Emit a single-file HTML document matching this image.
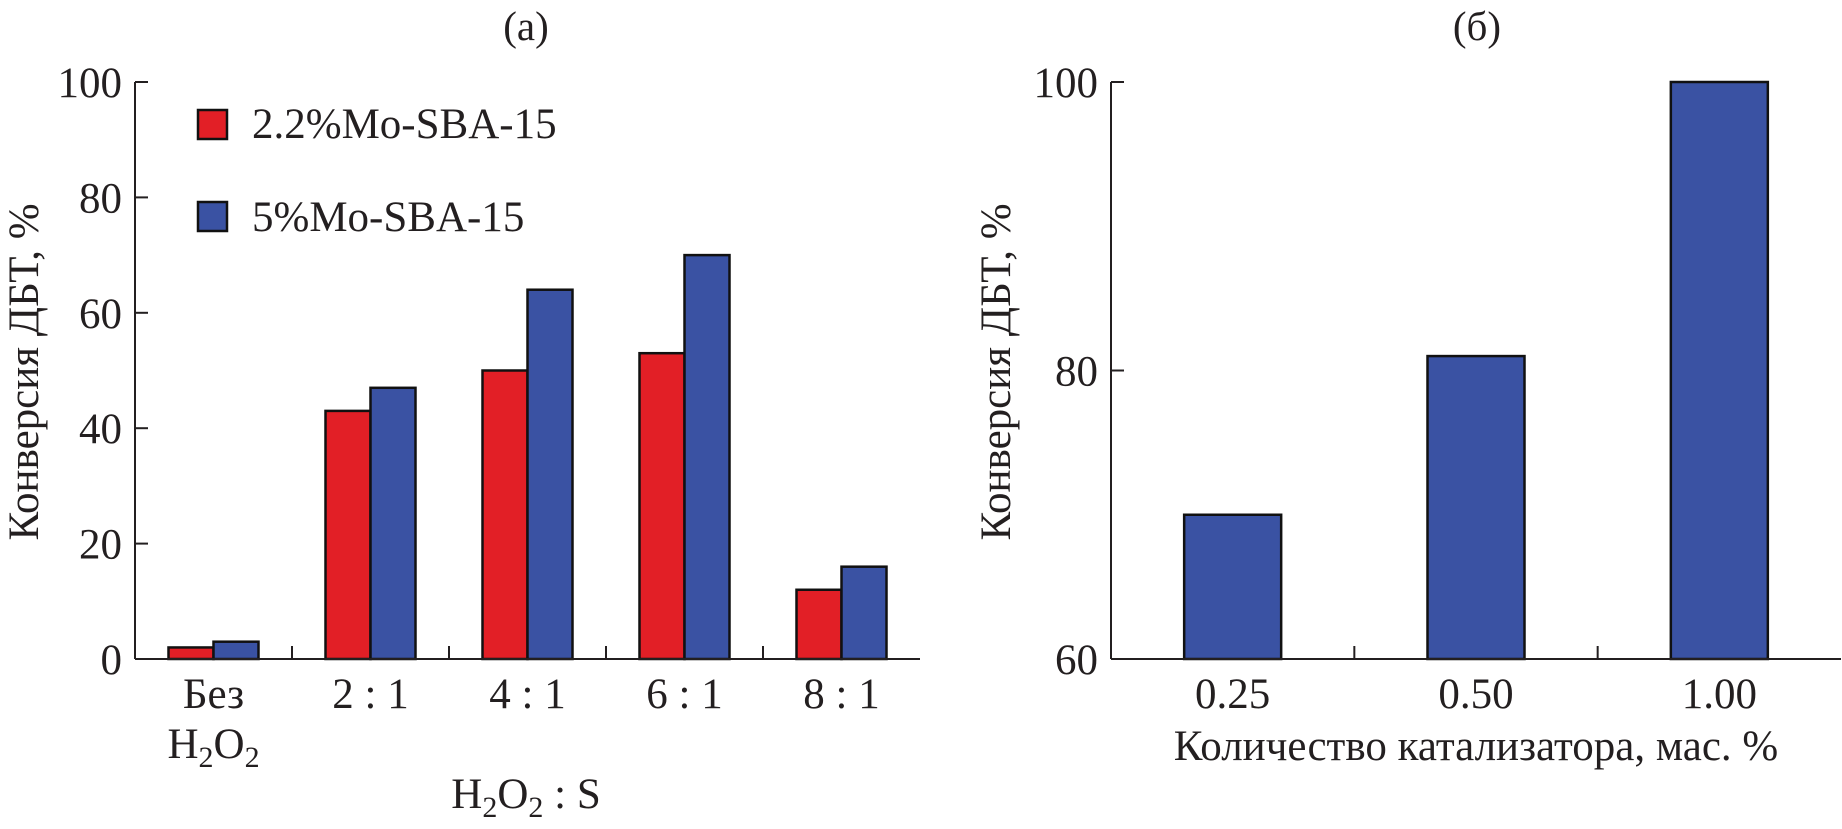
<!DOCTYPE html>
<html><head><meta charset="utf-8"><style>
html,body{margin:0;padding:0;background:#fff;}
svg{display:block;}
text{font-family:"Liberation Serif","Times New Roman",serif;fill:#231f20;}
</style></head><body>
<svg id="chart" width="1842" height="829" viewBox="0 0 1842 829" xmlns="http://www.w3.org/2000/svg" font-family="Liberation Serif, serif">
<g id="left"></g>
<g id="right"></g>
</svg>
<script>
const catsA = ["Без", "2 : 1", "4 : 1", "6 : 1", "8 : 1"];
const redA = [2, 43, 50, 53, 12];
const blueA = [3, 47, 64, 70, 16];
const ticksA = [0, 20, 40, 60, 80, 100];
const catsB = ["0.25", "0.50", "1.00"];
const valsB = [70, 81, 100];
const ticksB = [60, 80, 100];

const NS = "http://www.w3.org/2000/svg";
const FS = 43;
function mk(parent, tag, attrs, txt) {
  const e = document.createElementNS(NS, tag);
  for (const k in attrs) e.setAttribute(k, attrs[k]);
  if (txt !== undefined) e.textContent = txt;
  parent.appendChild(e);
  return e;
}
const RED = "#e21f26", BLUE = "#3a52a3";

// Panel A
const A = document.getElementById("left");
const ax0 = 135, ax1 = 920, ayTop = 82, ayBot = 659;
const yA = v => ayBot - (v - 0) / 100 * (ayBot - ayTop);
const cwA = (ax1 - ax0) / catsA.length;
const xA = i => ax0 + cwA * (i + 0.5);
const bwA = 45;
let t = mk(A, "text", {x: 526, y: 40, "font-size": 41, "text-anchor": "middle"}, "(a)");


catsA.forEach((c, i) => {
  let r = mk(A, "rect", {x: xA(i) - bwA, y: yA(redA[i]), width: bwA, height: ayBot - yA(redA[i]), fill: RED, stroke: "#111", "stroke-width": 2.5});
  
  
  let b = mk(A, "rect", {x: xA(i), y: yA(blueA[i]), width: bwA, height: ayBot - yA(blueA[i]), fill: BLUE, stroke: "#111", "stroke-width": 2.5});
  
  
  let l = mk(A, "text", {x: xA(i), y: 708, "font-size": FS, "text-anchor": "middle"}, c);
  
  
  if (i > 0) mk(A, "line", {x1: ax0 + cwA * i, x2: ax0 + cwA * i, y1: ayBot, y2: ayBot - 13, stroke: "#231f20", "stroke-width": 2});
});
let h = mk(A, "text", {x: xA(0), y: 758, "font-size": FS, "text-anchor": "middle"});


h.innerHTML = 'H<tspan font-size="30" dy="9">2</tspan><tspan dy="-9">O</tspan><tspan font-size="30" dy="9">2</tspan>';
mk(A, "line", {x1: ax0, x2: ax0, y1: ayTop, y2: ayBot, stroke: "#231f20", "stroke-width": 2});
mk(A, "line", {x1: ax0, x2: ax1, y1: ayBot, y2: ayBot, stroke: "#231f20", "stroke-width": 2});
ticksA.forEach(v => {
  mk(A, "line", {x1: ax0, x2: ax0 + 13, y1: yA(v), y2: yA(v), stroke: "#231f20", "stroke-width": 2});
  let tl = mk(A, "text", {x: 122, y: yA(v) + 15, "font-size": FS, "text-anchor": "end"}, v);
  
  
});
let yt = mk(A, "text", {x: 0, y: 0, "font-size": FS, "text-anchor": "middle", transform: "translate(38,372) rotate(-90)"}, "Конверсия ДБТ, %");


let xt = mk(A, "text", {x: 526, y: 808, "font-size": FS, "text-anchor": "middle"});


xt.innerHTML = 'H<tspan font-size="30" dy="9">2</tspan><tspan dy="-9">O</tspan><tspan font-size="30" dy="9">2</tspan><tspan dy="-9"> : S</tspan>';
// legend
const lg = mk(A, "g", {});


mk(lg, "rect", {x: 198, y: 110, width: 29, height: 29, fill: RED, stroke: "#111", "stroke-width": 2.5});
mk(lg, "text", {x: 252, y: 138, "font-size": FS}, "2.2%Mo-SBA-15");
mk(lg, "rect", {x: 198, y: 202, width: 29, height: 29, fill: BLUE, stroke: "#111", "stroke-width": 2.5});
mk(lg, "text", {x: 252, y: 231, "font-size": FS}, "5%Mo-SBA-15");

// Panel B
const B = document.getElementById("right");
const bx0 = 1111, bx1 = 1841, byTop = 82, byBot = 659;
const yB = v => byBot - (v - 60) / 40 * (byBot - byTop);
const cwB = (bx1 - bx0) / catsB.length;
const xB = i => bx0 + cwB * (i + 0.5);
const bwB = 97;
t = mk(B, "text", {x: 1477, y: 40, "font-size": 41, "text-anchor": "middle"}, "(б)");


catsB.forEach((c, i) => {
  let r = mk(B, "rect", {x: xB(i) - bwB / 2, y: yB(valsB[i]), width: bwB, height: byBot - yB(valsB[i]), fill: BLUE, stroke: "#111", "stroke-width": 2.5});
  
  
  let l = mk(B, "text", {x: xB(i), y: 708, "font-size": FS, "text-anchor": "middle"}, c);
  
  
  if (i > 0) mk(B, "line", {x1: bx0 + cwB * i, x2: bx0 + cwB * i, y1: byBot, y2: byBot - 13, stroke: "#231f20", "stroke-width": 2});
});
mk(B, "line", {x1: bx0, x2: bx0, y1: byTop, y2: byBot, stroke: "#231f20", "stroke-width": 2});
mk(B, "line", {x1: bx0, x2: bx1, y1: byBot, y2: byBot, stroke: "#231f20", "stroke-width": 2});
ticksB.forEach(v => {
  mk(B, "line", {x1: bx0, x2: bx0 + 13, y1: yB(v), y2: yB(v), stroke: "#231f20", "stroke-width": 2});
  let tl = mk(B, "text", {x: 1098, y: yB(v) + 15, "font-size": FS, "text-anchor": "end"}, v);
  
  
});
yt = mk(B, "text", {x: 0, y: 0, "font-size": FS, "text-anchor": "middle", transform: "translate(1010,372) rotate(-90)"}, "Конверсия ДБТ, %");


xt = mk(B, "text", {x: 1476, y: 760, "font-size": FS, "text-anchor": "middle"}, "Количество катализатора, мас. %");


</script>
</body></html>
